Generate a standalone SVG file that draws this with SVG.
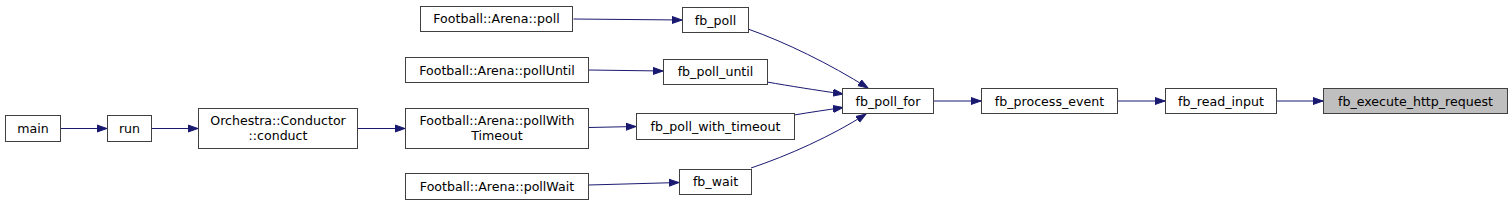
<svg xmlns="http://www.w3.org/2000/svg" width="1512" height="205" viewBox="0 0 1512 205">
<style>
.n rect{fill:#ffffff;stroke:#404040;stroke-width:1}
.n.h rect{fill:#bfbfbf}
.n text{font-family:"DejaVu Sans",sans-serif;font-size:12.6px;fill:#000;text-anchor:middle}
.e path{fill:none;stroke:#191970;stroke-width:1}
</style>
<defs>
<marker id="a" markerUnits="userSpaceOnUse" markerWidth="12" markerHeight="10" refX="10" refY="5" orient="auto" viewBox="0 0 12 10">
<path d="M0,1.5 L10,5 L0,8.5 z" fill="#191970" stroke="#191970" stroke-width="1"/>
</marker>
</defs>
<g class="e">
<path d="M60.5,128.5 L107,128.5" marker-end="url(#a)"/>
<path d="M151.5,128.5 L198,128.5" marker-end="url(#a)"/>
<path d="M357.5,128.5 L405,128.5" marker-end="url(#a)"/>
<path d="M573.5,19 L682,20" marker-end="url(#a)"/>
<path d="M588.5,70 L663,71" marker-end="url(#a)"/>
<path d="M588.5,127.5 L636,126.5" marker-end="url(#a)"/>
<path d="M588.5,185 L679,182.5" marker-end="url(#a)"/>
<path d="M748,29 C785,42 830,64 868,88" marker-end="url(#a)"/>
<path d="M767,82 C790,86 815,90 843,94" marker-end="url(#a)"/>
<path d="M794,115 C812,112 826,110 843,107.5" marker-end="url(#a)"/>
<path d="M751,168 C787,156 832,136 866,114" marker-end="url(#a)"/>
<path d="M933.5,101 L981,101" marker-end="url(#a)"/>
<path d="M1117.5,101 L1165,101" marker-end="url(#a)"/>
<path d="M1276.5,101 L1323,101" marker-end="url(#a)"/>
</g>
<g id="main" class="n"><rect x="5.5" y="115.5" width="55" height="26"/><text x="33" y="132.5">main</text></g>
<g id="run" class="n"><rect x="107.5" y="115.5" width="44" height="26"/><text x="129.5" y="132.5">run</text></g>
<g id="conduct" class="n"><rect x="198.5" y="108.5" width="159" height="40"/><text x="278" y="125">Orchestra::Conductor</text><text x="278" y="139.5">::conduct</text></g>
<g id="arena_poll" class="n"><rect x="420.5" y="6.5" width="152" height="25"/><text x="496.5" y="23">Football::Arena::poll</text></g>
<g id="arena_pollUntil" class="n"><rect x="405.5" y="57.5" width="183" height="25"/><text x="497" y="74.5">Football::Arena::pollUntil</text></g>
<g id="arena_pollWithTimeout" class="n"><rect x="405.5" y="108.5" width="183" height="40"/><text x="497" y="125">Football::Arena::pollWith</text><text x="497" y="139.5">Timeout</text></g>
<g id="arena_pollWait" class="n"><rect x="405.5" y="173.5" width="183" height="26"/><text x="497" y="190.5">Football::Arena::pollWait</text></g>
<g id="fb_poll" class="n"><rect x="682.5" y="7.5" width="66" height="25"/><text x="715.5" y="24.5">fb_poll</text></g>
<g id="fb_poll_until" class="n"><rect x="663.5" y="59.5" width="104" height="25"/><text x="715.5" y="76">fb_poll_until</text></g>
<g id="fb_poll_with_timeout" class="n"><rect x="636.5" y="113.5" width="158" height="26"/><text x="715.5" y="130.5">fb_poll_with_timeout</text></g>
<g id="fb_wait" class="n"><rect x="679.5" y="169.5" width="72" height="25"/><text x="715.5" y="186">fb_wait</text></g>
<g id="fb_poll_for" class="n"><rect x="842.5" y="88.5" width="91" height="25"/><text x="888" y="105.5">fb_poll_for</text></g>
<g id="fb_process_event" class="n"><rect x="981.5" y="88.5" width="136" height="25"/><text x="1049.5" y="105.5">fb_process_event</text></g>
<g id="fb_read_input" class="n"><rect x="1165.5" y="88.5" width="111" height="25"/><text x="1221" y="105.5">fb_read_input</text></g>
<g id="fb_execute_http_request" class="n h"><rect x="1323.5" y="88.5" width="184" height="25"/><text x="1415.5" y="105.5">fb_execute_http_request</text></g>
</svg>
